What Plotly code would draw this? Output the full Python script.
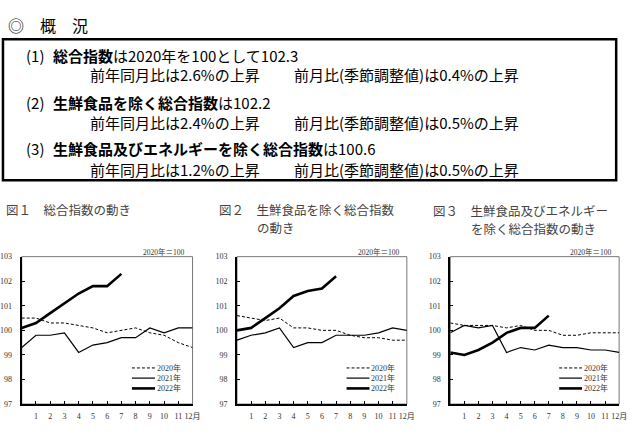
import plotly.graph_objects as go

W, H = 638, 435

# ---------------- data ----------------
months = [0, 1, 2, 3, 4, 5, 6, 7, 8, 9, 10, 11, 12]   # 0 = previous December
tick_vals = [1, 2, 3, 4, 5, 6, 7, 8, 9, 10, 11, 12]
tick_text = ["1", "2", "3", "4", "5", "6", "7", "8", "9", "10", "11", "12月"]
y_ticks = [97, 98, 99, 100, 101, 102, 103]
series_names = ["2020年", "2021年", "2022年"]

# 図1 総合指数
all_2020 = [100.5, 100.5, 100.3, 100.3, 100.2, 100.1, 99.9, 100.0, 100.1, 99.9, 99.8, 99.5, 99.3]
all_2021 = [99.3, 99.8, 99.8, 99.9, 99.1, 99.4, 99.5, 99.7, 99.7, 100.1, 99.9, 100.1, 100.1]
all_2022 = [100.1, 100.3, 100.7, 101.1, 101.5, 101.8, 101.8, 102.3]

# 図2 生鮮食品を除く総合指数
core_2020 = [100.6, 100.5, 100.4, 100.5, 100.1, 100.1, 100.0, 100.0, 99.8, 99.7, 99.7, 99.6, 99.6]
core_2021 = [99.6, 99.8, 99.9, 100.1, 99.3, 99.5, 99.5, 99.8, 99.8, 99.8, 99.9, 100.1, 100.0]
core_2022 = [100.0, 100.1, 100.5, 100.9, 101.4, 101.6, 101.7, 102.2]

# 図3 生鮮食品及びエネルギーを除く総合指数
cc_2020 = [100.3, 100.2, 100.2, 100.2, 100.1, 100.2, 100.0, 100.0, 99.8, 99.8, 99.9, 99.9, 99.9]
cc_2021 = [99.9, 100.2, 100.1, 100.2, 99.1, 99.3, 99.2, 99.4, 99.3, 99.3, 99.2, 99.2, 99.1]
cc_2022 = [99.1, 99.0, 99.2, 99.5, 99.9, 100.1, 100.1, 100.6]

charts = [
    ([all_2020, all_2021, all_2022], (22, 195)),
    ([core_2020, core_2021, core_2022], (240, 412)),
    ([cc_2020, cc_2021, cc_2022], (456, 627)),
]

line_styles = [
    dict(color="black", width=1, dash="3px,2px"),
    dict(color="black", width=1.2),
    dict(color="black", width=2.6),
]

PLOT_TOP, PLOT_BOT = 258, 408.5

def px(x):
    return x / W

def py(y):
    return 1 - y / H

SERIF = "Liberation Serif, Noto Sans CJK JP"
JP = "Noto Sans CJK JP"

fig = go.Figure()
shapes = []
annotations = []

for i, (series, (x0, x1)) in enumerate(charts):
    n = "" if i == 0 else str(i + 1)
    xa, ya = "x" + n, "y" + n
    for s, name, st in zip(series, series_names, line_styles):
        fig.add_trace(go.Scatter(
            x=months[:len(s)], y=s, mode="lines", name=name,
            line=st, xaxis=xa, yaxis=ya, showlegend=False,
            hoverinfo="skip"))
    axis_common = dict(showgrid=False, zeroline=False, showline=True,
                       linecolor="black", ticks="inside", ticklen=3,
                       tickwidth=1, tickcolor="black",
                       tickfont=dict(family=SERIF, size=8, color="#333"))
    fig.layout["xaxis" + n] = dict(
        domain=[px(x0), px(x1)], range=[0, 12], anchor=ya,
        tickvals=tick_vals, ticktext=tick_text, linewidth=2.2,
        ticklabelstandoff=3, **axis_common)
    fig.layout["yaxis" + n] = dict(
        domain=[py(PLOT_BOT), py(PLOT_TOP)], range=[97, 103], anchor=xa,
        tickvals=y_ticks, linewidth=2, ticklabelstandoff=6, **axis_common)
    # thin grey frame on top/right
    shapes.append(dict(type="rect", xref=xa + " domain", yref=ya + " domain",
                       x0=0, x1=1, y0=0, y1=1, layer="below",
                       line=dict(color="#777", width=1)))
    # base note
    annotations.append(dict(text="2020年＝100", xref=xa + " domain", yref="paper",
                            x=0.97, y=py(253), xanchor="right", yanchor="middle",
                            showarrow=False,
                            font=dict(family=SERIF, size=7.5, color="#333")))
    # manual legend
    leg_y = [0.245, 0.176, 0.106]
    for name, st, ly in zip(series_names, line_styles, leg_y):
        shapes.append(dict(type="line", xref=xa + " domain", yref=ya + " domain",
                           x0=0.645, x1=0.78, y0=ly, y1=ly,
                           line=st))
        annotations.append(dict(text=name, xref=xa + " domain", yref=ya + " domain",
                                x=0.785, y=ly, xanchor="left", yanchor="middle",
                                showarrow=False, borderpad=0,
                                font=dict(family=SERIF, size=8, color="#333")))

# chart titles
title_font = dict(family=JP, size=12.5, color="#444")
titles = [
    ("図１　総合指数の動き", 5, 210),
    ("図２　生鮮食品を除く総合指数", 221, 209.5),
    ("の動き", 259, 228),
    ("図３　生鮮食品及びエネルギー", 437, 210.5),
    ("を除く総合指数の動き", 476, 229),
]
for t, x, y in titles:
    annotations.append(dict(text=t, xref="paper", yref="paper", x=px(x), y=py(y),
                            xanchor="left", yanchor="middle", align="left",
                            showarrow=False, borderpad=0, font=title_font))

# header and summary box
annotations.append(dict(text="◎　概　況", xref="paper", yref="paper", x=px(6), y=py(21),
                        xanchor="left", yanchor="middle", showarrow=False,
                        font=dict(family=JP, size=16, color="black")))
shapes.append(dict(type="rect", xref="paper", yref="paper",
                   x0=px(3), x1=px(624), y0=py(180), y1=py(36),
                   line=dict(color="black", width=2.5)))

box_font = dict(family=JP, size=15, color="black")
summary = [
    ("(1)", 25, 52.5), ("<b>総合指数</b>は2020年を100として102.3", 53, 52.5),
    ("前年同月比は2.6%の上昇", 90, 72.5), ("前月比(季節調整値)は0.4%の上昇", 297, 72.5),
    ("(2)", 25, 100.5), ("<b>生鮮食品を除く総合指数</b>は102.2", 53, 100.5),
    ("前年同月比は2.4%の上昇", 90, 121), ("前月比(季節調整値)は0.5%の上昇", 297, 121),
    ("(3)", 25, 148), ("<b>生鮮食品及びエネルギーを除く総合指数</b>は100.6", 53, 148),
    ("前年同月比は1.2%の上昇", 90, 168.5), ("前月比(季節調整値)は0.5%の上昇", 297, 168.5),
]
for t, x, y in summary:
    annotations.append(dict(text=t, xref="paper", yref="paper", x=px(x), y=py(y),
                            xanchor="left", yanchor="middle", showarrow=False,
                            borderpad=0, font=box_font))

fig.update_layout(width=W, height=H, margin=dict(l=0, r=0, t=0, b=0),
                  paper_bgcolor="white", plot_bgcolor="white",
                  shapes=shapes, annotations=annotations, showlegend=False)

fig.write_html("out.html", config={"displayModeBar": False},
               post_script="document.body.style.margin='0';")
